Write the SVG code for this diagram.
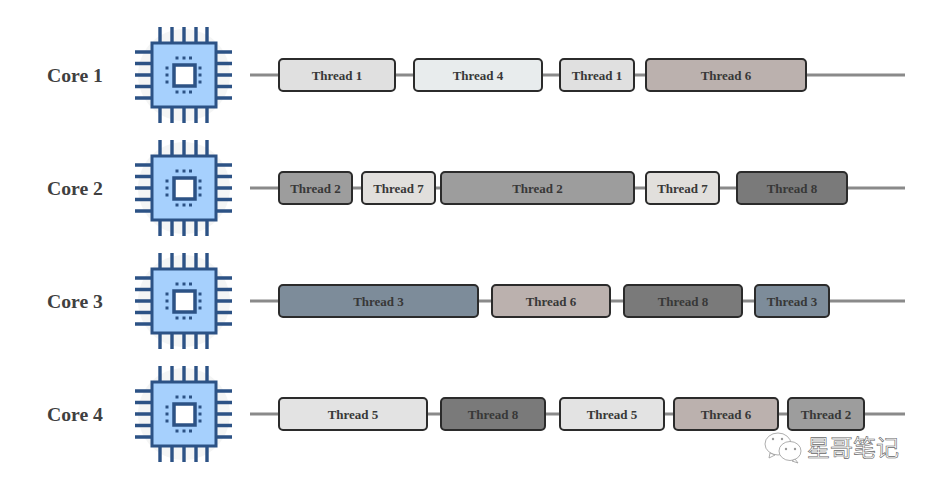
<svg xmlns="http://www.w3.org/2000/svg" xmlns:xlink="http://www.w3.org/1999/xlink" width="930" height="489" viewBox="0 0 930 489">
  <style>
    .label { font-family: "Liberation Serif", "Times New Roman", serif; font-weight: bold; text-anchor: middle; }
    .core { font-size: 19.700px; fill: #404040; }
    .th { font-size: 13px; fill: #383838; }
    .wire { stroke: #8a8a8a; stroke-width: 3; fill: none; }
    .box { stroke: #2b2b2b; stroke-width: 2; }
    .t1 { fill: #e0e0e0; } .t2 { fill: #9d9d9d; } .t3 { fill: #7d8c9a; } .t4 { fill: #e8eced; }
    .t5 { fill: #e3e3e3; } .t6 { fill: #bbb1ae; } .t7 { fill: #e1dfdc; } .t8 { fill: #7a7a7a; }
    .pin { stroke: #2c5285; stroke-width: 3.400; fill: none; }
    .mark { font-family: "Noto Sans CJK SC", sans-serif; font-size: 23px; fill: #fff; stroke: #666; stroke-width: 0.600; }
    .bubble { fill: #fff; stroke: #999; stroke-width: .8; }
  </style>
  <defs>
    <!-- processor icon, centred on the origin -->
    <g id="chip">
      <circle r="46" fill="#f4f5f5"/>
      <path class="pin" d="M-24-48V-32M-12-48V-32M0-48V-32M12-48V-32M23-48V-32M-24 32V48M-12 32V48M0 32V48M12 32V48M23 32V48M-49-23H-32M-49-11.500H-32M-49 0H-32M-49 11.500H-32M-49 23H-32M32-23H48M32-11.500H48M32 0H48M32 11.500H48M32 23H48"/>
      <rect x="-32" y="-32" width="64" height="64" fill="#a6d0fd" stroke="#2c5285" stroke-width="3"/>
      <rect x="-10" y="-10" width="21" height="21" fill="#fff" stroke="#2c5285" stroke-width="3.500"/>
      <g fill="#2c5285">
        <rect x="-8.500" y="-18.500" width="3" height="3"/><rect x="-1.500" y="-18.500" width="3" height="3"/><rect x="5" y="-18.500" width="3" height="3"/>
        <rect x="-8.500" y="15.500" width="3" height="3"/><rect x="-1.500" y="15.500" width="3" height="3"/><rect x="5" y="15.500" width="3" height="3"/>
        <rect x="-18.500" y="-8.500" width="3" height="3"/><rect x="-18.500" y="-1.500" width="3" height="3"/><rect x="-18.500" y="5.500" width="3" height="3"/>
        <rect x="14.500" y="-8.500" width="3" height="3"/><rect x="14.500" y="-1.500" width="3" height="3"/><rect x="14.500" y="5.500" width="3" height="3"/>
      </g>
    </g>
  </defs>

  <rect width="930" height="489" fill="#fff"/>

  <!-- timeline wires behind the thread slices -->
  <g id="connectors">
    <path class="wire" d="M250 75H905"/>
    <path class="wire" d="M250 188H905"/>
    <path class="wire" d="M250 301H905"/>
    <path class="wire" d="M250 414H905"/>
  </g>

  <g id="core1">
    <text class="label core" x="75" y="82">Core 1</text>
    <use xlink:href="#chip" href="#chip" x="184" y="75"/>
  </g>
  <g id="core1-t1"><rect class="box t1" x="279" y="59" width="116" height="32" rx="4"/><text class="label th" x="337" y="80">Thread 1</text></g>
  <g id="core1-t4"><rect class="box t4" x="414" y="59" width="128" height="32" rx="4"/><text class="label th" x="478" y="80">Thread 4</text></g>
  <g id="core1-t1b"><rect class="box t1" x="560" y="59" width="74" height="32" rx="4"/><text class="label th" x="597" y="80">Thread 1</text></g>
  <g id="core1-t6"><rect class="box t6" x="646" y="59" width="160" height="32" rx="4"/><text class="label th" x="726" y="80">Thread 6</text></g>

  <g id="core2">
    <text class="label core" x="75" y="195">Core 2</text>
    <use xlink:href="#chip" href="#chip" x="184" y="188"/>
  </g>
  <g id="core2-t2"><rect class="box t2" x="279" y="172" width="73" height="32" rx="4"/><text class="label th" x="315.500" y="193">Thread 2</text></g>
  <g id="core2-t7"><rect class="box t7" x="362" y="172" width="73" height="32" rx="4"/><text class="label th" x="398.500" y="193">Thread 7</text></g>
  <g id="core2-t2b"><rect class="box t2" x="441" y="172" width="193" height="32" rx="4"/><text class="label th" x="537.500" y="193">Thread 2</text></g>
  <g id="core2-t7b"><rect class="box t7" x="646" y="172" width="73" height="32" rx="4"/><text class="label th" x="682.500" y="193">Thread 7</text></g>
  <g id="core2-t8"><rect class="box t8" x="737" y="172" width="110" height="32" rx="4"/><text class="label th" x="792" y="193">Thread 8</text></g>

  <g id="core3">
    <text class="label core" x="75" y="308">Core 3</text>
    <use xlink:href="#chip" href="#chip" x="184" y="301"/>
  </g>
  <g id="core3-t3"><rect class="box t3" x="279" y="285" width="199" height="32" rx="4"/><text class="label th" x="378.500" y="306">Thread 3</text></g>
  <g id="core3-t6"><rect class="box t6" x="492" y="285" width="118" height="32" rx="4"/><text class="label th" x="551" y="306">Thread 6</text></g>
  <g id="core3-t8"><rect class="box t8" x="624" y="285" width="118" height="32" rx="4"/><text class="label th" x="683" y="306">Thread 8</text></g>
  <g id="core3-t3b"><rect class="box t3" x="755" y="285" width="74" height="32" rx="4"/><text class="label th" x="792" y="306">Thread 3</text></g>

  <g id="core4">
    <text class="label core" x="75" y="421">Core 4</text>
    <use xlink:href="#chip" href="#chip" x="184" y="414"/>
  </g>
  <g id="core4-t5"><rect class="box t5" x="279" y="398" width="148" height="32" rx="4"/><text class="label th" x="353" y="419">Thread 5</text></g>
  <g id="core4-t8"><rect class="box t8" x="441" y="398" width="104" height="32" rx="4"/><text class="label th" x="493" y="419">Thread 8</text></g>
  <g id="core4-t5b"><rect class="box t5" x="560" y="398" width="104" height="32" rx="4"/><text class="label th" x="612" y="419">Thread 5</text></g>
  <g id="core4-t6"><rect class="box t6" x="674" y="398" width="104" height="32" rx="4"/><text class="label th" x="726" y="419">Thread 6</text></g>
  <g id="core4-t2"><rect class="box t2" x="788" y="398" width="76" height="32" rx="4"/><text class="label th" x="826" y="419">Thread 2</text></g>

  <!-- account badge in the lower corner -->
  <g id="badge">
    <ellipse class="bubble" cx="778" cy="444" rx="13" ry="11"/>
    <path class="bubble" d="M770 453l-1 5 6-3z"/>
    <ellipse class="bubble" cx="790" cy="451" rx="11" ry="9.500"/>
    <path class="bubble" d="M795 459l3 4-6-2z"/>
    <circle cx="773" cy="439" r="1.200" fill="#999"/><circle cx="782" cy="439" r="1.200" fill="#999"/>
    <circle cx="786" cy="449" r="1.200" fill="#999"/><circle cx="795" cy="449" r="1.200" fill="#999"/>
    <text class="mark" x="807" y="456">星哥笔记</text>
  </g>
</svg>
